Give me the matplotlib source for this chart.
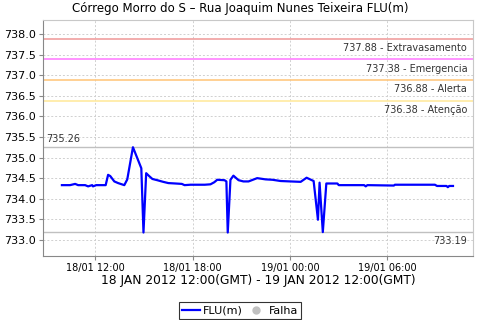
import matplotlib
matplotlib.use("Agg")
import matplotlib.pyplot as plt
import matplotlib.dates as mdates
import pandas as pd
from matplotlib.lines import Line2D

# leituras FLU(m)
times = [
    "2012-01-18 09:56", "2012-01-18 10:26", "2012-01-18 10:45", "2012-01-18 10:56",
    "2012-01-18 11:22", "2012-01-18 11:33", "2012-01-18 11:48", "2012-01-18 11:51",
    "2012-01-18 12:03", "2012-01-18 12:20", "2012-01-18 12:38", "2012-01-18 12:47",
    "2012-01-18 12:55", "2012-01-18 13:10", "2012-01-18 13:24", "2012-01-18 13:47",
    "2012-01-18 13:58", "2012-01-18 14:19", "2012-01-18 14:50", "2012-01-18 14:58",
    "2012-01-18 15:08", "2012-01-18 15:19", "2012-01-18 15:31", "2012-01-18 15:49",
    "2012-01-18 16:11", "2012-01-18 16:30", "2012-01-18 16:56", "2012-01-18 17:20",
    "2012-01-18 17:30", "2012-01-18 17:52", "2012-01-18 18:20", "2012-01-18 18:45",
    "2012-01-18 19:06", "2012-01-18 19:20", "2012-01-18 19:31", "2012-01-18 19:58",
    "2012-01-18 20:05", "2012-01-18 20:10", "2012-01-18 20:20", "2012-01-18 20:31",
    "2012-01-18 20:50", "2012-01-18 21:08", "2012-01-18 21:27", "2012-01-18 21:59",
    "2012-01-18 22:30", "2012-01-18 22:56", "2012-01-18 23:26", "2012-01-19 00:02",
    "2012-01-19 00:40", "2012-01-19 01:02", "2012-01-19 01:28", "2012-01-19 01:44",
    "2012-01-19 01:50", "2012-01-19 02:02", "2012-01-19 02:15", "2012-01-19 02:56",
    "2012-01-19 03:01", "2012-01-19 04:35", "2012-01-19 04:41", "2012-01-19 04:47",
    "2012-01-19 06:25", "2012-01-19 06:29", "2012-01-19 08:57", "2012-01-19 09:05",
    "2012-01-19 09:40", "2012-01-19 09:45", "2012-01-19 09:50", "2012-01-19 10:04",
]
flu = [
    734.33, 734.33, 734.36, 734.33,
    734.33, 734.30, 734.33, 734.30,
    734.33, 734.33, 734.33, 734.58,
    734.55, 734.42, 734.38, 734.33,
    734.47, 735.25, 734.74, 733.18,
    734.62, 734.55, 734.48, 734.45,
    734.41, 734.38, 734.37, 734.36,
    734.33, 734.34, 734.34, 734.34,
    734.35, 734.40, 734.46, 734.45,
    734.42, 733.18, 734.46, 734.56,
    734.45, 734.42, 734.42, 734.50,
    734.47, 734.46, 734.43, 734.42,
    734.41, 734.51, 734.43, 733.49,
    734.39, 733.19, 734.37, 734.37,
    734.33, 734.33, 734.30, 734.33,
    734.32, 734.34, 734.34, 734.31,
    734.31, 734.28, 734.31, 734.31,
]

# cotas de referencia
limites = [737.88, 737.38, 736.88, 736.38]
limite_nomes = ["Extravasamento", "Emergencia", "Alerta", "Atenção"]
limite_cores = ["#f0a0a0", "#ff80ff", "#ffc880", "#ffeaa0"]
max_min = [735.26, 733.19]

t = pd.to_datetime(times)

fig = plt.figure(figsize=(4.8, 3.2), dpi=100)
ax = fig.add_axes([0.0896, 0.2, 0.8952, 0.739])

for v, nome, cor in zip(limites, limite_nomes, limite_cores):
    ax.axhline(v, color=cor, lw=1.2, zorder=2)
    ax.annotate(f"{v:.2f} - {nome}", xy=(1, v), xycoords=("axes fraction", "data"),
                xytext=(-4, -3), textcoords="offset points", ha="right", va="top",
                fontsize=7, color="#333333")

ax.axhline(max_min[0], color="#c0c0c0", lw=1, zorder=2)
ax.annotate(f"{max_min[0]:.2f}", xy=(0, max_min[0]), xycoords=("axes fraction", "data"),
            xytext=(2, 2), textcoords="offset points", ha="left", va="bottom",
            fontsize=7, color="#333333")
ax.axhline(max_min[1], color="#c0c0c0", lw=1, zorder=2)
ax.annotate(f"{max_min[1]:.2f}", xy=(1, max_min[1]), xycoords=("axes fraction", "data"),
            xytext=(-4, -3), textcoords="offset points", ha="right", va="top",
            fontsize=7, color="#333333")

ax.plot(t, flu, color="#0000ff", lw=1.6, zorder=3)

ax.set_ylim(732.61, 738.35)
ax.set_xlim(pd.Timestamp("2012-01-18 08:46"), pd.Timestamp("2012-01-19 11:17"))
ax.set_yticks([733.0, 733.5, 734.0, 734.5, 735.0, 735.5, 736.0, 736.5, 737.0, 737.5, 738.0])
ax.xaxis.set_major_locator(mdates.HourLocator(byhour=[0, 6, 12, 18]))
ax.xaxis.set_major_formatter(mdates.DateFormatter("%d/%m %H:%M"))
ax.tick_params(axis="y", labelsize=8, length=3, color="#888888", pad=2)
ax.tick_params(axis="x", labelsize=7, length=3, color="#888888", pad=2)
ax.grid(True, color="#d0d0d0", ls=(0, (2, 2)), lw=0.7, zorder=1)

for s in ["left", "bottom"]:
    ax.spines[s].set_color("#888888")
for s in ["top", "right"]:
    ax.spines[s].set_color("#c8c8c8")

fig.text(0.5, 0.972, "Córrego Morro do S – Rua Joaquim Nunes Teixeira FLU(m)",
         ha="center", va="center", fontsize=8.5)
ax.set_xlabel("18 JAN 2012 12:00(GMT) - 19 JAN 2012 12:00(GMT)", fontsize=8.8, labelpad=1)

handles = [Line2D([], [], color="#0000ff", lw=1.6),
           Line2D([], [], color="#c0c0c0", marker="o", ls="none", markersize=5)]
leg = fig.legend(handles, ["FLU(m)", "Falha"], loc="lower center", bbox_to_anchor=(0.5, 0.0),
                 ncol=2, fontsize=8, frameon=True, fancybox=False, handlelength=1.6,
                 handletextpad=0.3, columnspacing=0.4, borderpad=0.3, borderaxespad=0.1)
leg.get_frame().set_edgecolor("black")
leg.get_frame().set_linewidth(0.8)

fig.savefig("out.png", dpi=100)
